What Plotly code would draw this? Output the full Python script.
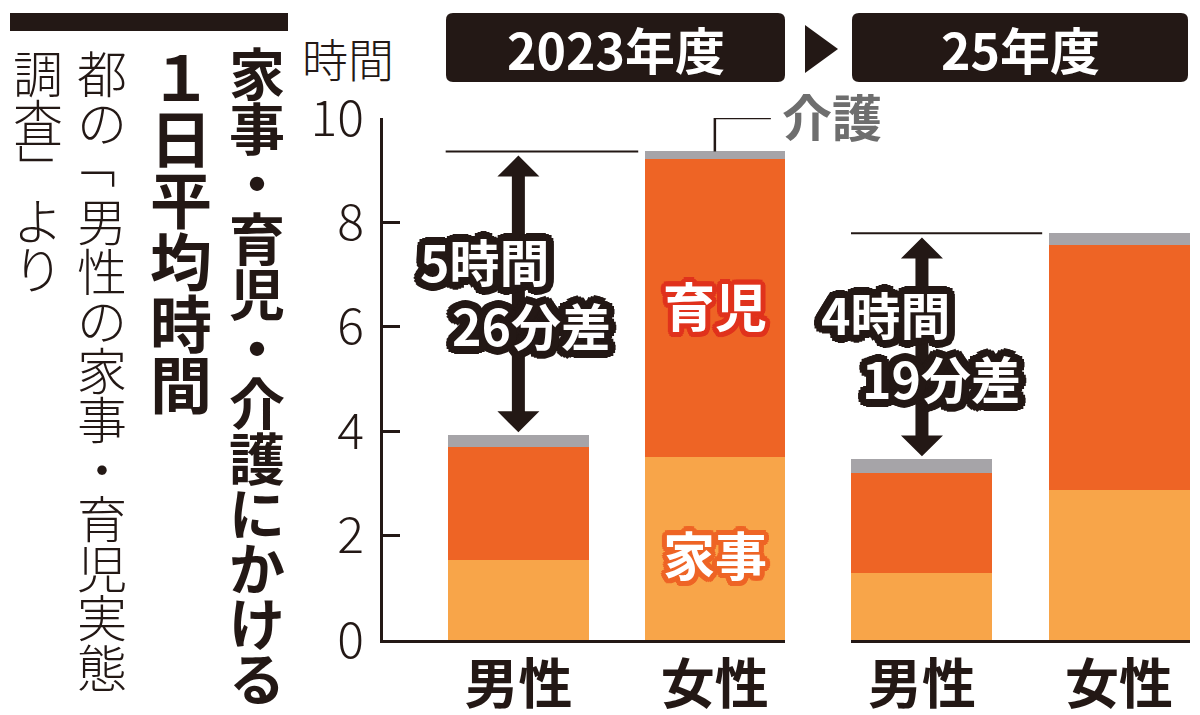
import math
import plotly.graph_objects as go

# --- data (hours per day) ---
sexes = ["男性", "女性"]
years = ["2023年度", "25年度"]
kaji_2023 = [1.53, 3.51]
ikuji_2023 = [2.16, 5.70]
kaigo_2023 = [0.24, 0.15]
kaji_2025 = [1.29, 2.87]
ikuji_2025 = [1.91, 4.69]
kaigo_2025 = [0.27, 0.23]
gap_2023 = ["5時間", "26分差"]
gap_2025 = ["4時間", "19分差"]
y_ticks = [0, 2, 4, 6, 8, 10]

title_text = "家事・育児・介護にかける"
subtitle_text = "１日平均時間"
source_lines = ["都の「男性の家事・育児実態", "調査」より"]

C_KAJI = "#F8A549"
C_IKUJI = "#EE6425"
C_KAIGO = "#A6A4A8"
INK = "#231815"
JP = "Noto Sans CJK JP"

# the page body keeps an 8px margin, so the figure starts 8px in from the corner
OFF = 8
W, H = 1200 - OFF, 715 - OFF
ML, MT = 383 - OFF, 118 - OFF
MR, MB = W - (1190 - OFF), H - (640 - OFF)
PW, PH = W - ML - MR, H - MT - MB


def px(x):
    # window pixel -> paper fraction
    return (x - OFF - ML) / PW


def py(y):
    return (H - MB - (y - OFF)) / PH


def outline(color, r):
    parts = []
    for rr in (r, r * 0.6):
        for k in range(16):
            a = 2 * math.pi * k / 16
            parts.append(f"{rr*math.cos(a):.1f}px {rr*math.sin(a):.1f}px 0 {color}")
    return ", ".join(parts)


fig = go.Figure()

for xa, ya, kaji, ikuji, kaigo in [("x", "y", kaji_2023, ikuji_2023, kaigo_2023),
                                   ("x2", "y2", kaji_2025, ikuji_2025, kaigo_2025)]:
    for name, vals, col in [("家事", kaji, C_KAJI), ("育児", ikuji, C_IKUJI), ("介護", kaigo, C_KAIGO)]:
        fig.add_trace(go.Bar(x=sexes, y=vals, name=name, marker_color=col,
                             marker_line_width=0, width=0.715,
                             xaxis=xa, yaxis=ya, showlegend=False, hoverinfo="skip"))

tot_2023 = [a + b + c for a, b, c in zip(kaji_2023, ikuji_2023, kaigo_2023)]
tot_2025 = [a + b + c for a, b, c in zip(kaji_2025, ikuji_2025, kaigo_2025)]

axis_x = dict(type="category", showline=True, linewidth=3, linecolor=INK,
              ticks="", showgrid=False, zeroline=False, fixedrange=True, automargin=False,
              tickfont=dict(family=JP, size=54, color=INK, weight="bold"),
              ticklabelstandoff=-4)
fig.update_layout(
    template="none",
    width=W, height=H,
    margin=dict(l=ML, r=MR, t=MT, b=MB, pad=0),
    paper_bgcolor="white", plot_bgcolor="white",
    barmode="stack", bargap=0,
    xaxis=dict(axis_x, domain=[0, px(785)], range=[-0.689, 1.357], anchor="y"),
    xaxis2=dict(axis_x, domain=[px(851), 1], range=[-0.36, 1.36], anchor="y2"),
    yaxis=dict(range=[0, 10], tickvals=y_ticks, ticks="inside", ticklen=17,
               tickwidth=3, tickcolor=INK, showline=True, linewidth=3,
               linecolor=INK, showgrid=False, zeroline=False, anchor="x",
               automargin=False, fixedrange=True,
               tickfont=dict(family=JP, size=50, color=INK, weight=300),
               ticklabelstandoff=6),
    yaxis2=dict(range=[0, 10], visible=False, anchor="x2", matches="y",
                automargin=False, showgrid=False, zeroline=False),
)

shapes = []
annos = []

# top rule on the left
shapes.append(dict(type="rect", xref="paper", yref="paper", x0=px(10), x1=px(288),
                   y0=py(31), y1=py(13), fillcolor=INK, line_width=0))


def rounded(x0, y0, x1, y1, r=7):
    pts = [(x0 + r, y0), (x1 - r, y0), (x1, y0), (x1, y0 + r), (x1, y1 - r), (x1, y1),
           (x1 - r, y1), (x0 + r, y1), (x0, y1), (x0, y1 - r), (x0, y0 + r), (x0, y0)]
    P = [(px(a), py(b)) for a, b in pts]
    s = f"M{P[0][0]},{P[0][1]} L{P[1][0]},{P[1][1]} Q{P[2][0]},{P[2][1]} {P[3][0]},{P[3][1]} "
    s += f"L{P[4][0]},{P[4][1]} Q{P[5][0]},{P[5][1]} {P[6][0]},{P[6][1]} L{P[7][0]},{P[7][1]} "
    s += f"Q{P[8][0]},{P[8][1]} {P[9][0]},{P[9][1]} L{P[10][0]},{P[10][1]} Q{P[11][0]},{P[11][1]} {P[0][0]},{P[0][1]} Z"
    return s


# year header boxes
for (x0, x1), label in zip([(446, 785), (852, 1188)], years):
    shapes.append(dict(type="path", xref="paper", yref="paper", path=rounded(x0, 13, x1, 82),
                       fillcolor=INK, line_width=0))
    annos.append(dict(xref="paper", yref="paper", x=px((x0 + x1) / 2), y=py(48),
                      text=label, showarrow=False, xanchor="center", yanchor="middle",
                      font=dict(family=JP, size=50, color="white", weight="bold")))
shapes.append(dict(type="path", xref="paper", yref="paper",
                   path=f"M{px(805)},{py(25)} L{px(838)},{py(49)} L{px(805)},{py(73)} Z",
                   fillcolor=INK, line_width=0))

# y-axis unit
annos.append(dict(xref="paper", yref="paper", x=px(348), y=py(57), text="時間",
                  showarrow=False, xanchor="center", yanchor="middle",
                  font=dict(family=JP, size=46, color=INK, weight=300)))


def double_arrow(xa, ya, anchor, lo, hi, head=0.4, hw=21, sw=6.5):
    p = (f"M{-sw},{lo + head} L{-hw},{lo + head} L0,{lo} L{hw},{lo + head} L{sw},{lo + head} "
         f"L{sw},{hi - head} L{hw},{hi - head} L0,{hi} L{-hw},{hi - head} L{-sw},{hi - head} Z")
    return dict(type="path", xref=xa, yref=ya, xsizemode="pixel", xanchor=anchor,
                path=p, fillcolor=INK, line_width=0)


for xa, ya, tot, gap, shifts in [("x", "y", tot_2023, gap_2023, (-33, 13)),
                                 ("x2", "y2", tot_2025, gap_2025, (-36, 20))]:
    # reference line at the women's total
    shapes.append(dict(type="line", xref=xa, yref=ya, x0=-0.37, x1=0.61,
                       y0=tot[1], y1=tot[1], line=dict(color=INK, width=2)))
    shapes.append(double_arrow(xa, ya, 0, tot[0] + 0.05, tot[1] - 0.08))
    mid = (tot[0] + tot[1]) / 2
    for line, dx, dy in [(gap[0], shifts[0], 33), (gap[1], shifts[1], -31)]:
        annos.append(dict(xref=xa, yref=ya, x=sexes[0], y=mid, xshift=dx, yshift=dy,
                          text=line, showarrow=False, xanchor="center", yanchor="middle",
                          font=dict(family=JP, size=50, color="white", weight="bold",
                                    shadow=outline(INK, 8))))

# 介護 callout
shapes.append(dict(type="path", xref="x", yref="y", xsizemode="pixel", xanchor=1,
                   path=f"M0,{tot_2023[1]} L0,10 L56,10", line=dict(color=INK, width=2.5)))
annos.append(dict(xref="x", yref="y", x=sexes[1], y=10, xshift=117, yshift=3,
                  text="介護", showarrow=False, xanchor="center", yanchor="middle",
                  font=dict(family=JP, size=50, color="#6E6E6E", weight="bold")))

# segment labels on the 2023 women's bar
annos.append(dict(xref="x", yref="y", x=sexes[1], y=kaji_2023[1] + ikuji_2023[1] / 2, yshift=4,
                  text="育児", showarrow=False,
                  font=dict(family=JP, size=52, color="white", weight="bold",
                            shadow=outline("#E0321C", 5))))
annos.append(dict(xref="x", yref="y", x=sexes[1], y=kaji_2023[1] / 2, yshift=-5,
                  text="家事", showarrow=False,
                  font=dict(family=JP, size=52, color="white", weight="bold",
                            shadow=outline(C_IKUJI, 5))))

# vertical headline and source, one glyph per annotation
# corner brackets are turned a quarter for vertical writing
columns = [(title_text, 257, 43, 55, 56, "bold"),
           (subtitle_text, 181, 43, 61.7, 62, "bold"),
           (source_lines[0], 102, 46, 49.5, 50, 300),
           (source_lines[1], 38, 46, 49.2, 50, 300)]
bracket_shift = {"「": (-8, 6), "」": (8, 0)}
for text, cx, top, step, size, weight in columns:
    for i, ch in enumerate(text):
        a = dict(xref="paper", yref="paper", x=px(cx), y=py(top + step * (i + 0.5)),
                 text=ch, showarrow=False, xanchor="center", yanchor="middle",
                 font=dict(family=JP, size=size, color=INK, weight=weight))
        if ch in bracket_shift:
            a.update(textangle=90, xshift=bracket_shift[ch][0], yshift=bracket_shift[ch][1])
        annos.append(a)

fig.update_layout(shapes=shapes, annotations=annos)

fig.write_html("out.html")
